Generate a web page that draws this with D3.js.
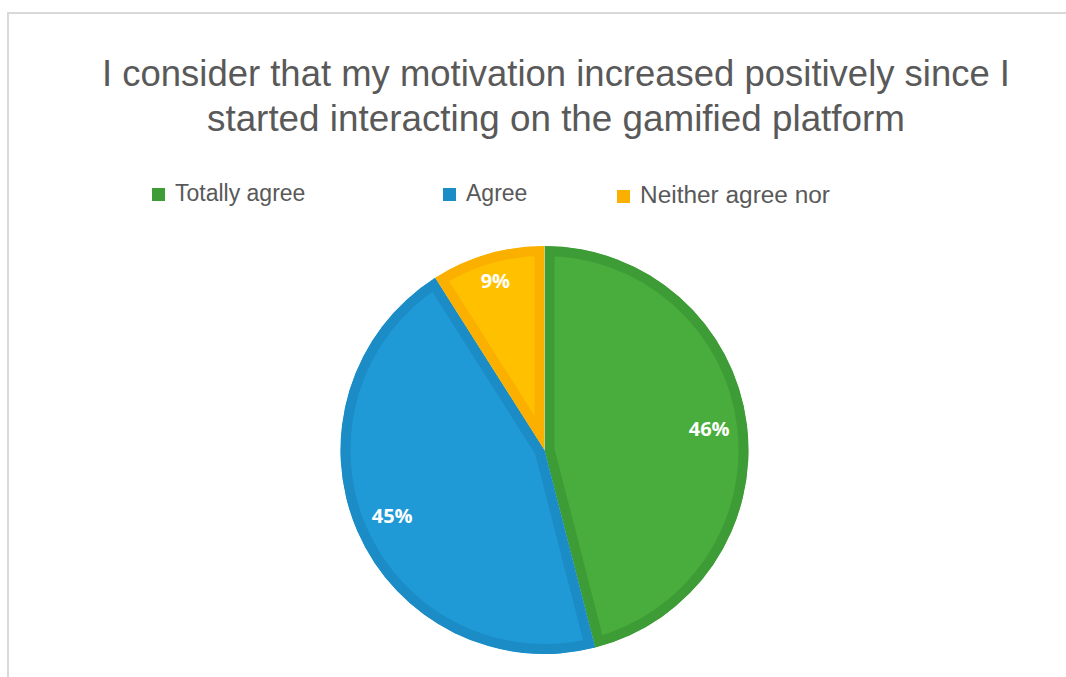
<!DOCTYPE html>
<html>
<head>
<meta charset="utf-8">
<script src="https://cdn.jsdelivr.net/npm/d3@7/dist/d3.min.js"></script>
<style>
  html, body { margin: 0; padding: 0; background: #ffffff; }
  svg { display: block; }
</style>
</head>
<body>
<svg id="chart" width="1066" height="677"></svg>
<script>
// Survey answers and their shares (percent)
const categories = ["Totally agree", "Agree", "Neither agree nor"];
const shares = [46, 45, 9];
const fillColors = ["#48ad3d", "#1f9ad6", "#ffc000"];
const edgeColors = ["#3e9c36", "#1b8cc5", "#fbb000"];
const titleLines = [
  "I consider that my motivation increased positively since I",
  "started interacting on the gamified platform"
];

const svg = d3.select("#chart");
const W = 1066, H = 677;

// chart area frame
svg.append("rect")
  .attr("x", 8).attr("y", 13)
  .attr("width", W + 20).attr("height", H + 20)
  .attr("fill", "#ffffff")
  .attr("stroke", "#d9d9d9")
  .attr("stroke-width", 2);

// title
const titleWidths = [908, 698];
const title = svg.append("g")
  .attr("font-family", "'Liberation Sans', Arial, sans-serif")
  .attr("font-size", 36)
  .attr("fill", "#595959")
  .attr("text-anchor", "middle");
titleLines.forEach((line, i) => {
  const t = title.append("text")
    .attr("x", 556)
    .attr("y", 86 + i * 45)
    .text(line);
  const natural = t.node().getComputedTextLength();
  if (Math.abs(natural - titleWidths[i]) > 4) {
    t.attr("textLength", titleWidths[i]).attr("lengthAdjust", "spacingAndGlyphs");
  }
});

// legend
const legendX = [152, 443, 617];
const legendBase = [201, 201, 203];
const legendWidths = [131, 60, 190];
const legend = svg.append("g")
  .attr("font-family", "'Liberation Sans', Arial, sans-serif")
  .attr("font-size", 23)
  .attr("fill", "#595959");
categories.forEach((c, i) => {
  legend.append("rect")
    .attr("x", legendX[i]).attr("y", legendBase[i] - 13)
    .attr("width", 13).attr("height", 13)
    .attr("fill", edgeColors[i]);
  const t = legend.append("text")
    .attr("x", legendX[i] + 23)
    .attr("y", legendBase[i])
    .text(c);
  const natural = t.node().getComputedTextLength();
  if (Math.abs(natural - legendWidths[i]) > 3) {
    t.attr("textLength", legendWidths[i]).attr("lengthAdjust", "spacingAndGlyphs");
  }
});

// pie
const cx = 544.5, cy = 450, R = 204, edge = 10;
const pie = d3.pie().sort(null).value(d => d)(shares);
const arc = d3.arc().innerRadius(0).outerRadius(R);
const g = svg.append("g").attr("transform", `translate(${cx},${cy})`);
const defs = svg.append("defs");

pie.forEach((d, i) => {
  const path = arc(d);
  defs.append("clipPath").attr("id", "slice-clip-" + i)
    .append("path").attr("d", path);
  g.append("path")
    .attr("d", path)
    .attr("fill", fillColors[i])
    .attr("stroke", edgeColors[i])
    .attr("stroke-width", edge * 2)
    .attr("stroke-linejoin", "miter")
    .attr("clip-path", `url(#slice-clip-${i})`);
});

// value labels inside slices
const labels = g.append("g")
  .attr("font-family", "'Open Sans', 'DejaVu Sans', sans-serif")
  .attr("font-weight", "bold")
  .attr("font-size", 20)
  .attr("fill", "#ffffff")
  .attr("text-anchor", "middle");
pie.forEach((d, i) => {
  const span = d.endAngle - d.startAngle;
  const lr = span < 0.6 ? 176 : 166;
  const a = (d.startAngle + d.endAngle) / 2;
  labels.append("text")
    .attr("x", lr * Math.sin(a))
    .attr("y", -lr * Math.cos(a))
    .attr("dy", "0.36em")
    .text(d.data + "%");
});
</script>
</body>
</html>
